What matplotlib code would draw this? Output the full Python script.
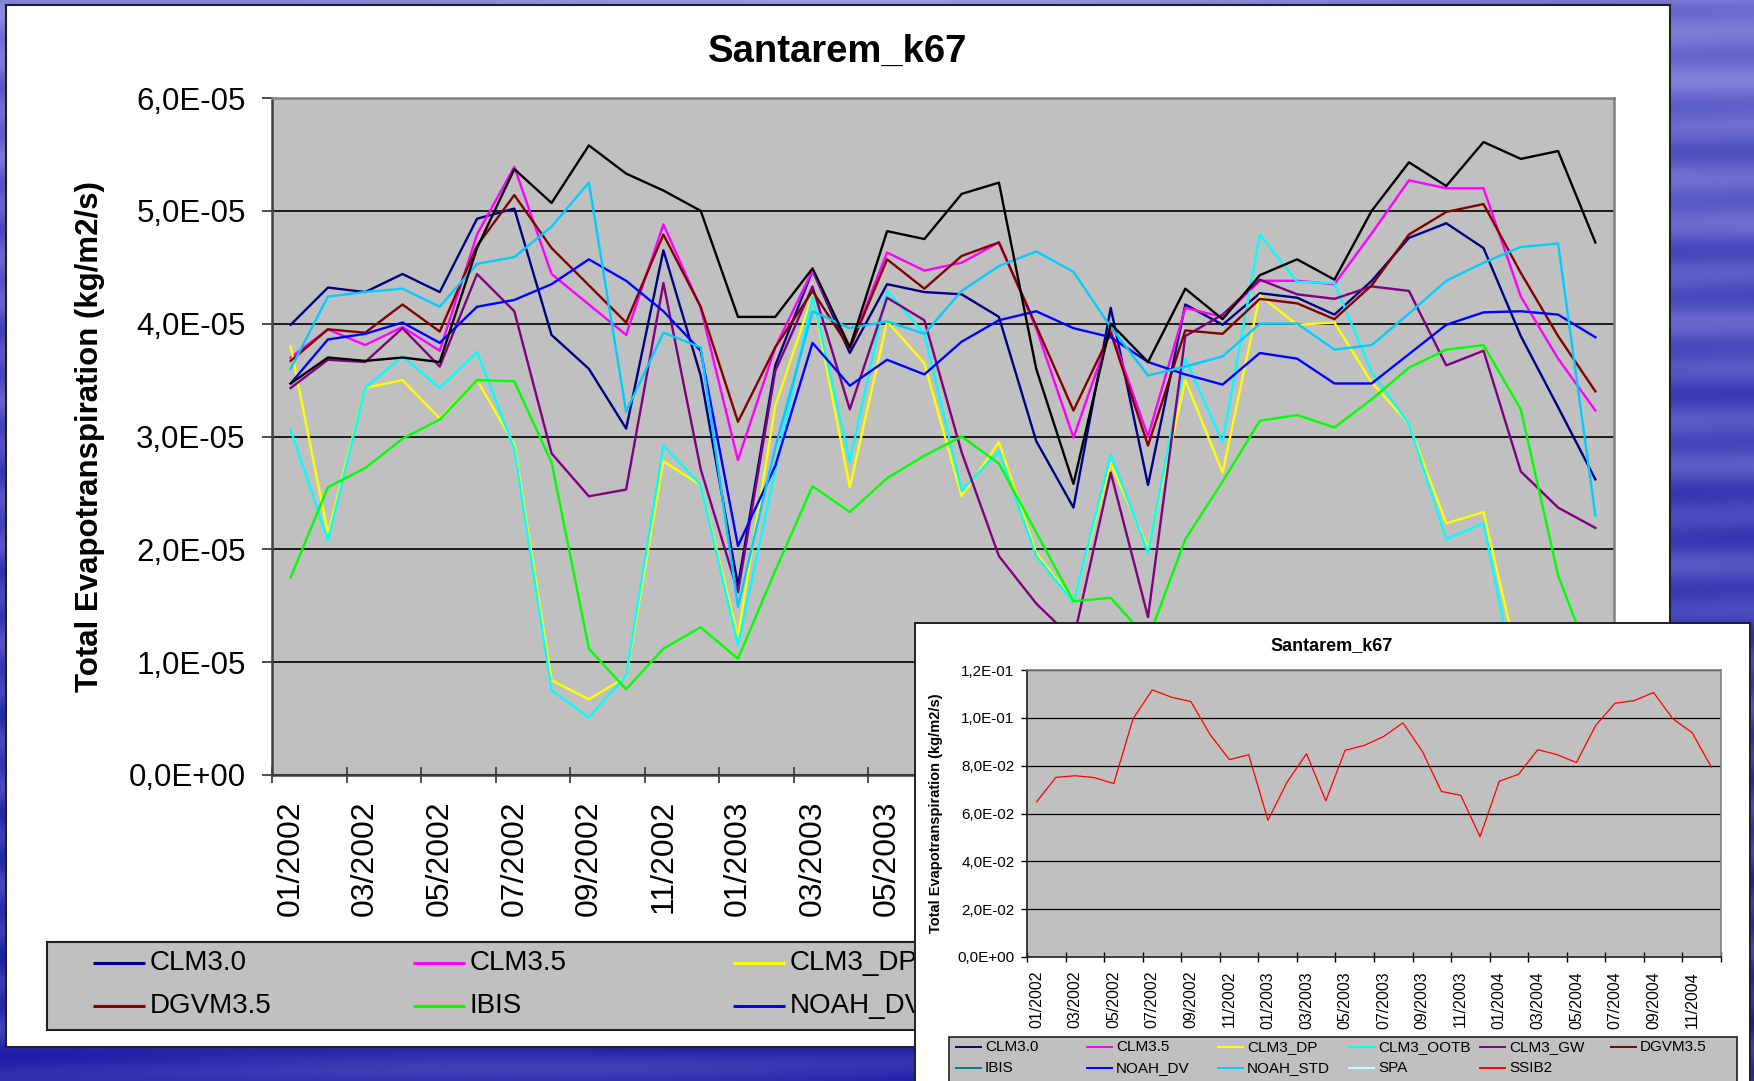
import numpy as np
import matplotlib.pyplot as plt
from matplotlib.patches import Rectangle
from matplotlib.ticker import FuncFormatter

plt.rcParams['font.family'] = ['Liberation Sans', 'DejaVu Sans']

W, H = 1754, 1081

# ---------------- data: Santarem_k67, monthly 01/2002 .. 12/2004 ----------------
months = np.arange(36)
tick_labels = ['01/2002', '03/2002', '05/2002', '07/2002', '09/2002', '11/2002',
               '01/2003', '03/2003', '05/2003', '07/2003', '09/2003', '11/2003',
               '01/2004', '03/2004', '05/2004', '07/2004', '09/2004', '11/2004']

names = ['CLM3.0', 'CLM3.5', 'CLM3_DP', 'CLM3_OOTB', 'CLM3_GW', 'DGVM3.5',
         'IBIS', 'NOAH_DV', 'NOAH_STD', 'SPA']

# values in 1E-05 kg/m2/s
clm30 = [3.99, 4.32, 4.28, 4.44, 4.28, 4.93, 5.02, 3.90, 3.60, 3.07, 4.65, 3.54, 1.68,
         3.63, 4.47, 3.74, 4.35, 4.28, 4.26, 4.06, 2.96, 2.37, 4.14, 2.57, 4.17,
         3.99, 4.27, 4.23, 4.08, 4.38, 4.76, 4.89, 4.67, 3.89, 3.26, 2.62]
clm35 = [3.70, 3.95, 3.81, 3.97, 3.76, 4.79, 5.39, 4.44, 4.17, 3.90, 4.88, 4.14, 2.79,
         3.79, 4.47, 3.79, 4.63, 4.47, 4.54, 4.72, 3.96, 2.99, 3.94, 3.00, 4.14,
         4.06, 4.38, 4.38, 4.35, 4.80, 5.27, 5.20, 5.20, 4.24, 3.69, 3.23]
clm3_dp = [3.80, 2.14, 3.43, 3.50, 3.16, 3.50, 2.93, 0.84, 0.67, 0.87, 2.78, 2.57, 1.23,
           3.27, 4.25, 2.55, 4.02, 3.65, 2.47, 2.95, 1.97, 1.54, 2.76, 2.01, 3.50,
           2.68, 4.25, 3.99, 4.01, 3.48, 3.11, 2.23, 2.33, 0.90, 0.60, 0.70]
clm3_ootb = [3.06, 2.08, 3.43, 3.71, 3.43, 3.75, 2.89, 0.75, 0.51, 0.88, 2.92, 2.57, 1.15,
             2.70, 4.24, 2.78, 4.29, 3.91, 2.52, 2.87, 1.94, 1.53, 2.84, 1.97, 3.69,
             2.95, 4.79, 4.37, 4.36, 3.57, 3.11, 2.09, 2.23, 0.60, 0.50, 0.80]
clm3_gw = [3.43, 3.68, 3.66, 3.96, 3.62, 4.44, 4.11, 2.85, 2.47, 2.53, 4.36, 2.71, 1.62,
           3.58, 4.33, 3.24, 4.23, 4.03, 2.86, 1.94, 1.52, 1.20, 2.68, 1.40, 3.89,
           4.08, 4.39, 4.26, 4.22, 4.33, 4.29, 3.63, 3.76, 2.69, 2.37, 2.19]
dgvm35 = [3.67, 3.95, 3.92, 4.17, 3.93, 4.69, 5.14, 4.67, 4.34, 4.01, 4.79, 4.15, 3.13,
          3.79, 4.29, 3.78, 4.57, 4.31, 4.60, 4.72, 3.98, 3.23, 3.92, 2.92, 3.94,
          3.91, 4.22, 4.18, 4.04, 4.34, 4.79, 4.99, 5.06, 4.45, 3.89, 3.40]
ibis = [1.75, 2.55, 2.72, 2.98, 3.15, 3.50, 3.49, 2.77, 1.12, 0.76, 1.12, 1.31, 1.03,
        1.81, 2.56, 2.33, 2.63, 2.83, 3.00, 2.76, 2.15, 1.54, 1.57, 1.20, 2.09,
        2.60, 3.14, 3.19, 3.08, 3.33, 3.61, 3.77, 3.81, 3.24, 1.77, 0.90]
noah_dv = [3.47, 3.86, 3.91, 4.01, 3.83, 4.15, 4.21, 4.35, 4.57, 4.38, 4.11, 3.76, 2.03,
           2.74, 3.83, 3.45, 3.68, 3.55, 3.84, 4.03, 4.11, 3.96, 3.88, 3.66, 3.55,
           3.46, 3.74, 3.69, 3.47, 3.47, 3.73, 3.99, 4.10, 4.11, 4.08, 3.88]
noah_std = [3.60, 4.24, 4.28, 4.31, 4.15, 4.53, 4.59, 4.86, 5.25, 3.22, 3.92, 3.79, 1.49,
            2.90, 4.11, 3.96, 4.02, 3.91, 4.29, 4.51, 4.64, 4.46, 3.97, 3.54, 3.62,
            3.71, 4.00, 4.00, 3.77, 3.81, 4.09, 4.38, 4.54, 4.68, 4.71, 2.30]
spa = [3.47, 3.70, 3.67, 3.70, 3.66, 4.67, 5.37, 5.07, 5.58, 5.33, 5.18, 5.00, 4.06,
       4.06, 4.49, 3.79, 4.82, 4.75, 5.15, 5.25, 3.60, 2.58, 4.00, 3.66, 4.31,
       4.04, 4.43, 4.57, 4.39, 5.00, 5.43, 5.22, 5.61, 5.46, 5.53, 4.72]

# SSIB2 (only in the small chart), values in 1E-02
ssib2 = [6.49, 7.51, 7.58, 7.50, 7.25, 9.96, 11.17, 10.86, 10.68, 9.30, 8.25, 8.46,
         5.72, 7.32, 8.50, 6.53, 8.64, 8.85, 9.22, 9.79, 8.61, 6.92, 6.76, 5.03,
         7.35, 7.64, 8.67, 8.46, 8.13, 9.68, 10.61, 10.72, 11.06, 9.96, 9.38, 7.94]

series = [clm30, clm35, clm3_dp, clm3_ootb, clm3_gw, dgvm35, ibis, noah_dv, noah_std, spa]
colors_main = ['#000080', '#FF00FF', '#FFFF00', '#00FFFF', '#800080', '#800000',
               '#00FF00', '#0000FF', '#00CCFF', '#000000']
colors_small = ['#000080', '#FF00FF', '#FFFF00', '#00FFFF', '#800080', '#800000',
                '#008080', '#0000FF', '#00CCFF', '#CCFFFF', '#FF0000']

INSET_LEFT, INSET_TOP = 915, 623   # pixel corner of the pasted small chart


def fx(px):
    return px / W


def fy(py):
    return 1 - py / H


def sci_comma(v, pos):
    return f"{v:.1E}".replace('.', ',')


def grid_legend(axp, labels, colors, x0, y0, dx, dy, ncol, hl, gap, fs, lw, xmax=None):
    for i, (lab, c) in enumerate(zip(labels, colors)):
        r, k = divmod(i, ncol)
        x = x0 + k * dx
        y = y0 + r * dy
        if xmax is not None and x > xmax:
            continue  # entry lies fully under the pasted chart
        axp.plot([x, x + hl], [y, y], color=c, lw=lw, solid_capstyle='butt')
        axp.text(x + hl + gap, y, lab, ha='left', va='center', fontsize=fs)


fig = plt.figure(figsize=(W / 100, H / 100), dpi=100)

# ---------------- slide background ----------------
bg = fig.add_axes([0, 0, 1, 1], zorder=-1)
yy = np.linspace(0, 1, 400)[:, None]
xx = np.linspace(0, 1, 500)[None, :]
t = np.broadcast_to(yy ** 0.5, (400, 500))
top = np.array([0.52, 0.52, 0.86])
bot = np.array([0.17, 0.17, 0.68])
img = (1 - t)[..., None] * top + t[..., None] * bot
streak = 0.05 * np.sin(yy * 140 + xx * 4) + 0.03 * np.sin(yy * 55 - xx * 9)
img = np.clip(img + streak[..., None] * np.array([1.0, 1.0, 0.5]), 0, 1)
bg.imshow(img, extent=(0, W, H, 0), aspect='auto')
bg.set_xlim(0, W)
bg.set_ylim(H, 0)
bg.axis('off')

# white chart area + legend box of the big chart
bg.add_patch(Rectangle((6, 5), 1664, 1042, facecolor='white', edgecolor='#202020', lw=1.5))
bg.add_patch(Rectangle((47, 942), 1593, 88, facecolor='#C0C0C0', edgecolor='#202020', lw=1.5))
grid_legend(bg, names, colors_main, 93, 963, 320, 43, 5, 52, 5, 20, 2.2, xmax=INSET_LEFT)

# ---------------- main chart ----------------
ax = fig.add_axes([fx(272), fy(775), fx(1614) - fx(272), fy(98) - fy(775)], zorder=1)
ax.set_facecolor('#C0C0C0')
for vals, c in zip(series, colors_main):
    ax.plot(months, np.array(vals) * 1e-5, color=c, lw=1.7)
ax.set_xlim(-0.5, 35.5)
ax.set_ylim(0, 6e-5)
ax.set_yticks(np.arange(0, 6.01e-5, 1e-5))
ax.yaxis.set_major_formatter(FuncFormatter(sci_comma))
ax.grid(axis='y', color='black', lw=1.2)
ax.set_axisbelow(True)
ax.set_xticks(months[::2])
ax.set_xticklabels(tick_labels, rotation=90)
ax.set_xticks(np.arange(-0.5, 36, 2), minor=True)
ax.tick_params(axis='x', which='major', length=0, pad=18, labelsize=23)
ax.tick_params(axis='x', which='minor', direction='inout', length=11, width=1.3, color='#404040')
ax.tick_params(axis='y', direction='out', length=7, width=1.3, pad=12, labelsize=22.5, color='#404040')
for s in ['left', 'bottom']:
    ax.spines[s].set_color('#404040')
    ax.spines[s].set_linewidth(1.8)
for s in ['top', 'right']:
    ax.spines[s].set_color('#808080')
    ax.spines[s].set_linewidth(1.8)

# labels that sit under the pasted chart are not visible in the slide
fig.canvas.draw()
for lab in ax.get_xticklabels():
    if ax.transData.transform((lab.get_position()[0], 0))[0] > INSET_LEFT - 20:
        lab.set_visible(False)

fig.text(fx(838), fy(52), 'Santarem_k67', ha='center', va='center',
         fontsize=27.5, fontweight='bold', zorder=3)
fig.text(fx(90), fy(437), 'Total Evapotranspiration (kg/m2/s)', ha='center', va='center',
         rotation=90, fontsize=22.5, fontweight='bold', zorder=3)

# ---------------- small chart pasted on top ----------------
pa = fig.add_axes([fx(INSET_LEFT), fy(1095), fx(1750) - fx(INSET_LEFT), fy(INSET_TOP) - fy(1095)], zorder=5)
pa.set_facecolor('white')
pa.set_xlim(INSET_LEFT, 1750)
pa.set_ylim(1095, INSET_TOP)
pa.set_xticks([])
pa.set_yticks([])
for s in pa.spines.values():
    s.set_color('#202020')
    s.set_linewidth(1.4)
pa.text(1332, 646, 'Santarem_k67', ha='center', va='center', fontsize=13, fontweight='bold')
pa.text(936, 813, 'Total Evapotranspiration (kg/m2/s)', ha='center', va='center',
        rotation=90, fontsize=10.5, fontweight='bold')
pa.add_patch(Rectangle((949, 1037), 788, 60, facecolor='#C0C0C0', edgecolor='#202020', lw=1.2))
grid_legend(pa, names + ['SSIB2'], colors_small, 955, 1047, 131, 21, 6, 27, 3, 11, 1.4)

ia = fig.add_axes([fx(1027), fy(957), fx(1721) - fx(1027), fy(670) - fy(957)], zorder=6)
ia.set_facecolor('#C0C0C0')
for vals, c in zip(series, colors_small[:10]):
    ia.plot(months, np.array(vals) * 1e-5, color=c, lw=0.9)
ia.plot(months, np.array(ssib2) * 1e-2, color=colors_small[10], lw=0.9)
ia.set_xlim(-0.5, 35.5)
ia.set_ylim(0, 0.12)
ia.set_yticks(np.arange(0, 0.121, 0.02))
ia.yaxis.set_major_formatter(FuncFormatter(sci_comma))
ia.grid(axis='y', color='black', lw=0.9)
ia.set_axisbelow(True)
ia.set_xticks(months[::2])
ia.set_xticklabels(tick_labels, rotation=90)
ia.set_xticks(np.arange(-0.5, 36, 2), minor=True)
ia.tick_params(axis='x', which='major', length=0, pad=10, labelsize=11.5)
ia.tick_params(axis='x', which='minor', direction='inout', length=7, width=1.0)
ia.tick_params(axis='y', direction='out', length=4, width=1.0, pad=5, labelsize=11)
for s in ['left', 'bottom']:
    ia.spines[s].set_color('#202020')
    ia.spines[s].set_linewidth(1.2)
for s in ['top', 'right']:
    ia.spines[s].set_color('#808080')
    ia.spines[s].set_linewidth(1.2)

fig.savefig('out.png', dpi=100)
